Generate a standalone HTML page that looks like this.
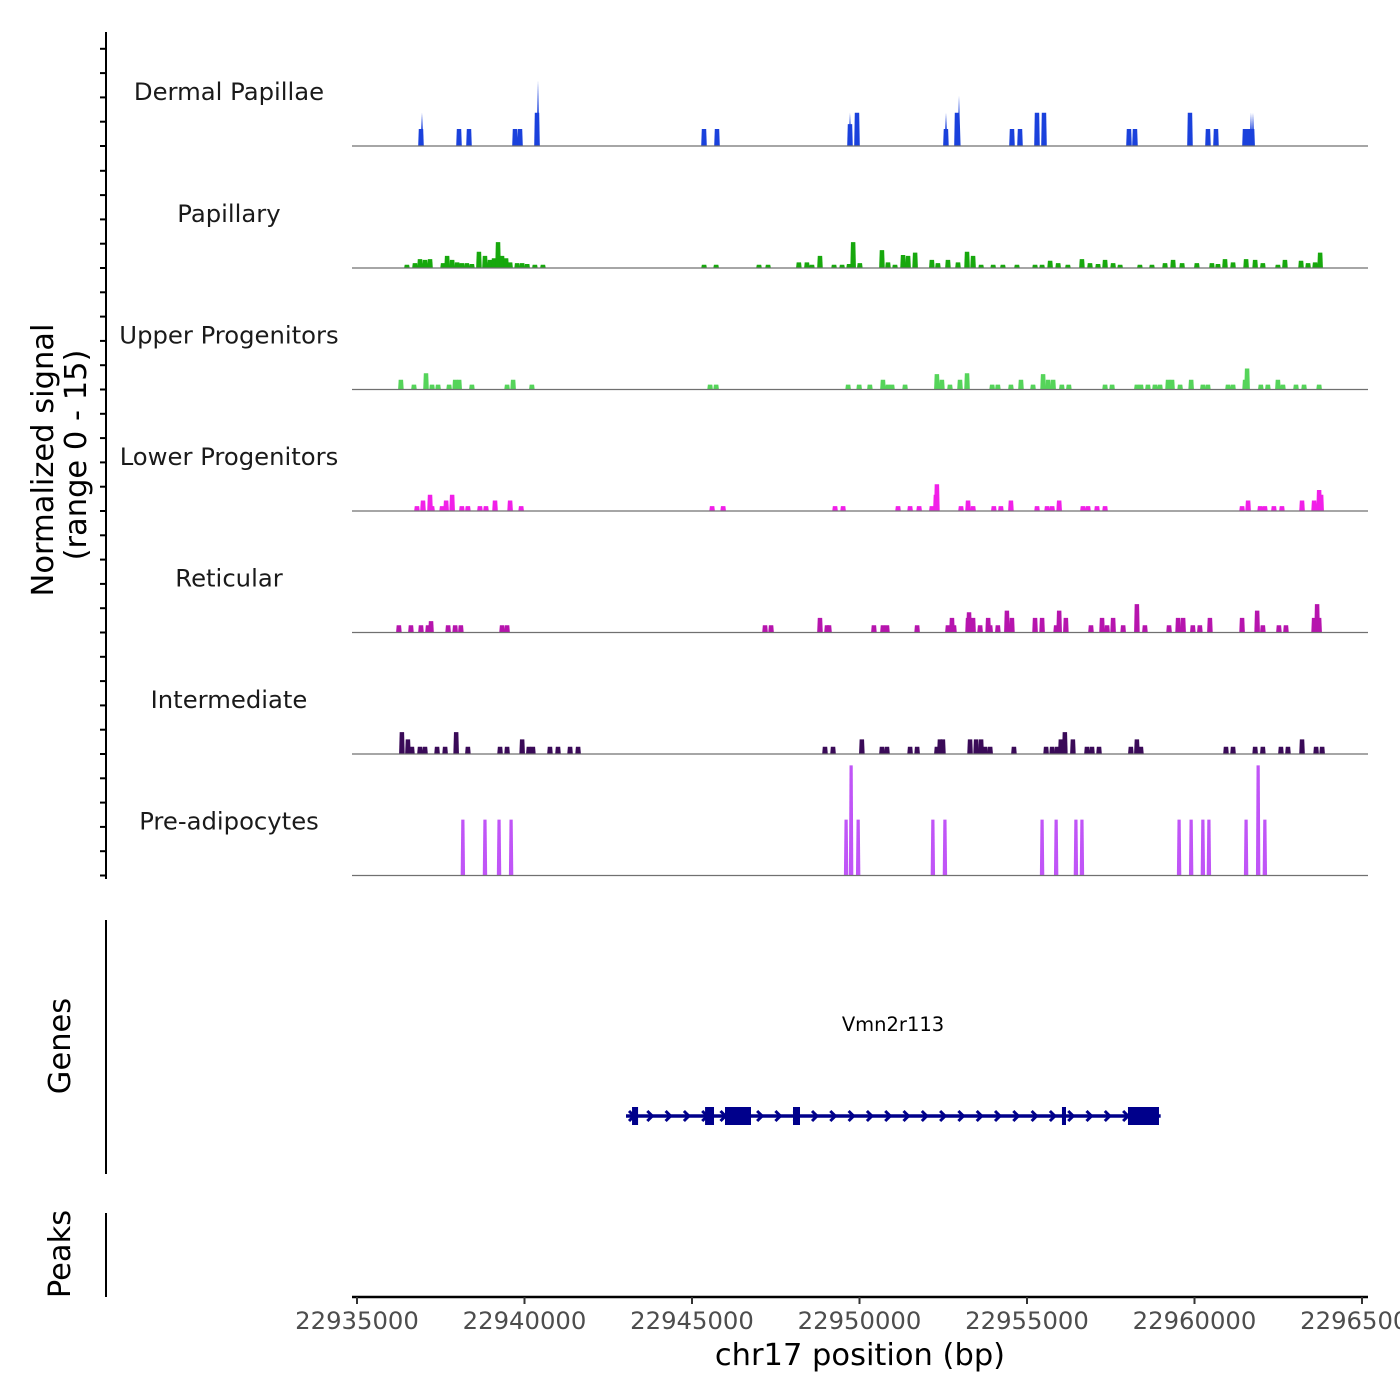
<!DOCTYPE html>
<html><head><meta charset="utf-8">
<style>
html,body{margin:0;padding:0;background:#fff;}
svg{display:block;font-family:"DejaVu Sans","Liberation Sans",sans-serif;}
</style></head>
<body>
<svg id="chart" width="1400" height="1400" viewBox="0 0 1400 1400" xmlns="http://www.w3.org/2000/svg">
<g id="ylab">
<text transform="translate(53,460) rotate(-90)" text-anchor="middle" font-size="30.5" fill="#000">Normalized signal</text>
<text transform="translate(86,455) rotate(-90)" text-anchor="middle" font-size="30.5" fill="#000">(range 0 - 15)</text>
<text transform="translate(70,1046) rotate(-90)" text-anchor="middle" font-size="30.5" fill="#000">Genes</text>
<text transform="translate(70,1254) rotate(-90)" text-anchor="middle" font-size="30.5" fill="#000">Peaks</text>
</g>
<line x1="106" y1="32" x2="106" y2="879" stroke="#000" stroke-width="2"/>
<line x1="106" y1="920" x2="106" y2="1174" stroke="#000" stroke-width="2"/>
<line x1="106" y1="1213" x2="106" y2="1297" stroke="#000" stroke-width="2"/>
<line x1="352" y1="1297" x2="1368" y2="1297" stroke="#000" stroke-width="2.5"/>
<text x="860" y="1365" text-anchor="middle" font-size="30.5" fill="#000">chr17 position (bp)</text>
<text x="893" y="1031" text-anchor="middle" font-size="19.5" fill="#000">Vmn2r113</text>
<g id="tracks"></g>
<g id="gene"></g>
<g id="xaxis"></g>
</svg>
<script>
const xTicks = [22935000, 22940000, 22945000, 22950000, 22955000, 22960000, 22965000];
const trackNames = ["Dermal Papillae","Papillary","Upper Progenitors","Lower Progenitors","Reticular","Intermediate","Pre-adipocytes"];

const dpPos = [22936910,22938045,22938343,22939716,22939866,22940373,22945358,22945746,22949716,22949925,22952580,22952910,22954552,22954791,22955298,22955507,22958044,22958223,22959865,22960402,22960641,22961507,22961600,22961720];
const dpVal = [2.1,2.1,2.1,2.1,2.1,4.1,2.1,2.1,2.7,4.1,2.1,4.1,2.1,2.1,4.1,4.1,2.1,2.1,4.1,2.1,2.1,2.1,2.1,2.1];
const dpSpikePos = [22936940,22940403,22949716,22952582,22952970,22961686,22961746];
const dpSpikeVal = [4.1,8.1,4.1,4.1,6.2,4.1,4.1];

const papPos = [22936490,22936730,22936880,22937030,22937180,22937570,22937690,22937840,22937990,22938130,22938280,22938430,22938640,22938820,22938970,22939090,22939210,22939330,22939450,22939570,22939780,22939930,22940080,22940310,22940550,22945360,22945720,22947000,22947270,22948190,22948430,22948580,22948820,22949240,22949480,22949690,22949810,22950010,22950670,22950850,22951060,22951300,22951450,22951660,22952160,22952340,22952640,22952940,22953210,22953390,22953630,22953990,22954280,22954700,22955240,22955450,22955690,22955930,22956220,22956640,22956880,22957120,22957330,22957570,22957780,22958370,22958730,22959120,22959360,22959630,22960070,22960520,22960700,22960910,22961150,22961540,22961810,22962040,22962490,22962700,22963180,22963390,22963600,22963750];
const papVal = [0.4,0.6,1.1,1.0,1.1,0.6,1.5,1.0,0.7,0.6,0.6,0.5,2.0,1.5,1.0,1.2,3.2,1.5,1.2,0.7,0.6,0.6,0.5,0.4,0.4,0.4,0.4,0.4,0.4,0.7,0.7,0.4,1.5,0.4,0.4,0.5,3.2,0.6,2.2,0.7,0.4,1.6,1.5,1.9,1.0,0.6,1.0,0.7,2.0,1.5,0.4,0.4,0.4,0.4,0.4,0.4,0.9,0.6,0.4,1.1,0.6,0.5,1.0,0.6,0.4,0.4,0.4,0.6,1.0,0.6,0.6,0.6,0.5,1.1,0.7,1.1,1.0,0.6,0.4,1.0,0.9,0.6,0.7,1.9];

const upPos = [22936310,22936700,22937060,22937240,22937420,22937750,22937930,22938050,22938430,22939480,22939660,22940220,22945540,22945720,22949660,22949990,22950310,22950700,22950850,22950970,22951360,22952310,22952460,22952700,22953000,22953210,22953960,22954130,22954520,22954820,22955180,22955480,22955630,22955780,22956040,22956250,22957330,22957540,22958280,22958400,22958610,22958820,22958970,22959210,22959330,22959570,22959900,22960250,22960400,22961000,22961150,22961510,22961570,22961980,22962190,22962490,22962640,22963030,22963270,22963720];
const upVal = [1.2,0.6,2.0,0.6,0.6,0.6,1.2,1.2,0.6,0.6,1.2,0.6,0.6,0.6,0.6,0.6,0.6,1.2,0.6,0.6,0.6,1.9,1.2,0.6,1.2,2.0,0.6,0.6,0.6,1.2,0.6,1.9,1.2,1.2,0.6,0.6,0.6,0.6,0.6,0.6,0.6,0.6,0.6,1.2,1.2,0.6,1.2,0.6,0.6,0.6,0.6,1.2,2.6,0.6,0.6,1.2,0.6,0.6,0.6,0.6];

const lowPos = [22936790,22936970,22937180,22937240,22937540,22937660,22937840,22938130,22938310,22938670,22938850,22939120,22939570,22939900,22945600,22945930,22949270,22949510,22951150,22951510,22951780,22952160,22952280,22952310,22953030,22953240,22953390,22954010,22954220,22954520,22955300,22955600,22955750,22955960,22956670,22956820,22957090,22957330,22961420,22961600,22961960,22962100,22962370,22962610,22963210,22963570,22963720,22963780];
const lowVal = [0.6,1.3,2.0,0.6,0.6,1.3,2.0,0.6,0.6,0.6,0.6,1.3,1.3,0.6,0.6,0.6,0.6,0.6,0.6,0.6,0.6,0.6,2.0,3.3,0.6,1.3,0.6,0.6,0.6,1.3,0.6,0.6,0.6,1.3,0.6,0.6,0.6,0.6,0.6,1.3,0.6,0.6,0.6,0.6,1.3,1.3,2.6,2.0];

const retPos = [22936250,22936610,22936910,22937120,22937210,22937720,22937930,22938100,22939330,22939480,22947180,22947360,22948820,22949030,22949090,22950430,22950700,22950820,22951720,22952640,22952760,22952820,22953240,22953270,22953390,22953600,22953840,22953900,22954130,22954400,22954550,22955240,22955450,22955870,22955960,22956160,22956910,22957240,22957390,22957570,22957870,22958280,22958520,22959240,22959510,22959660,22959950,22960160,22960460,22961420,22961870,22962040,22962520,22962730,22963570,22963660,22963720];
const retVal = [0.9,0.9,0.9,0.9,1.4,0.9,0.9,0.9,0.9,0.9,0.9,0.9,1.8,0.9,0.9,0.9,0.9,0.9,0.9,0.9,1.8,0.9,1.8,2.5,1.8,0.9,1.8,0.9,0.9,2.7,1.8,1.8,1.8,0.9,2.7,1.8,0.9,1.8,0.9,1.8,0.9,3.5,0.9,0.9,1.8,1.8,0.9,0.9,1.8,1.8,2.7,0.9,0.9,0.9,1.8,3.5,1.8];

const intPos = [22936340,22936520,22936640,22936880,22937030,22937390,22937630,22937960,22938310,22939270,22939480,22939930,22940130,22940250,22940760,22941000,22941360,22941600,22948970,22949210,22950070,22950670,22950820,22951510,22951720,22952310,22952400,22952490,22953300,22953480,22953630,22953750,22953900,22954610,22955570,22955750,22955900,22956010,22956130,22956370,22956790,22956940,22957150,22958100,22958280,22958400,22960940,22961150,22961810,22962040,22962580,22962790,22963210,22963630,22963810];
const intVal = [2.7,1.8,0.9,0.9,0.9,0.9,0.9,2.7,0.9,0.9,0.9,1.8,0.9,0.9,0.9,0.9,0.9,0.9,0.9,0.9,1.8,0.9,0.9,0.9,0.9,0.9,1.8,1.8,1.8,1.8,1.8,0.9,0.9,0.9,0.9,0.9,0.9,1.8,2.7,1.8,0.9,0.9,0.9,0.9,1.8,0.9,0.9,0.9,0.9,0.9,0.9,0.9,1.8,0.9,0.9];

const prePos = [22938160,22938820,22939240,22939600,22949600,22949750,22949960,22952190,22952550,22955450,22955870,22956460,22956640,22959540,22959900,22960250,22960430,22961540,22961900,22962100];
const preVal = [6.9,6.9,6.9,6.9,6.9,13.6,6.9,6.9,6.9,6.9,6.9,6.9,6.9,6.9,6.9,6.9,6.9,6.9,13.6,6.9];

const geneExonStart = [22943210,22945390,22945985,22948015,22956044,22958014];
const geneExonEnd   = [22943390,22945657,22946761,22948224,22956164,22958940];
const geneStart = 22943030;
const geneEnd = 22958990;

const NS = "http://www.w3.org/2000/svg";
const X0 = 22935000, PX0 = 357, PXPER = 1005/30000;
function xs(bp){ return PX0 + (bp - X0) * PXPER; }
const baselines = [146,268,389.5,511,632.5,754,875.5];
const UNIT = 121.5/15;
function ys(track, v){ return baselines[track] - v * UNIT; }
function mk(tag, attrs, parent){ const e=document.createElementNS(NS,tag); for(const k in attrs) e.setAttribute(k,attrs[k]); parent.appendChild(e); return e; }

const tracksG = document.getElementById('tracks');
const colors = ["#1a41dc","#17a80d","#55d45a","#f11fe8","#b614ad","#3a0a58","#c055f7"];
const posArrs = [dpPos,papPos,upPos,lowPos,retPos,intPos,prePos];
const valArrs = [dpVal,papVal,upVal,lowVal,retVal,intVal,preVal];
const halfW = [2.2,2.2,2.2,2.2,2.2,2.2,1.6];
const slugs = ["dermal-papillae","papillary","upper-progenitors","lower-progenitors","reticular","intermediate","pre-adipocytes"];

for(let t=0;t<7;t++){
  for(let k=0;k<5;k++){
    const y = baselines[t] - k*24.3;
    if (y < 32) continue;
    const tk = mk('line',{x1:100,x2:106,y1:y,y2:y,stroke:'#000','stroke-width':2},tracksG);
    
    
  }
}

for(let t=0;t<7;t++){
  const g = mk('g',{},tracksG);
  
  
  const lab = mk('text',{x:229,y:baselines[t]-46,'text-anchor':'middle','font-size':24.3,fill:'#1a1a1a'},g);
  lab.textContent = trackNames[t];
  
  
  const pos = posArrs[t], val = valArrs[t];
  for(let i=0;i<pos.length;i++){
    const x = xs(pos[i]), y = ys(t,val[i]), b = baselines[t], w = halfW[t];
    const p = mk('polygon',{points:`${x-w-0.6},${b} ${x-w},${y} ${x+w},${y} ${x+w+0.6},${b}`,fill:colors[t]},g);
    
    
  }
  if(t===0){
    for(let i=0;i<dpSpikePos.length;i++){
      const x = xs(dpSpikePos[i]), y = ys(0,dpSpikeVal[i]), b = baselines[0];
      const s = mk('polygon',{points:`${x-1.6},${b} ${x},${y} ${x+1.6},${b}`,fill:colors[0]},g);
      
      
    }
  }
  const bl = mk('line',{x1:352,x2:1368,y1:baselines[t],y2:baselines[t],stroke:'#707070','stroke-width':1.2},g);
  
  
}

const geneG = document.getElementById('gene');


const gy = 1116;
const gl = mk('line',{x1:xs(geneStart),x2:xs(geneEnd),y1:gy,y2:gy,stroke:'#00008b','stroke-width':3.5},geneG);


for(let ax = xs(geneStart)+3; ax < xs(geneEnd)-4; ax += 18.3){
  const a = mk('polyline',{points:`${ax},${gy-5} ${ax+5},${gy} ${ax},${gy+5}`,fill:'none',stroke:'#00008b','stroke-width':3},geneG);
  
  
}
for(let i=0;i<geneExonStart.length;i++){
  const x1 = xs(geneExonStart[i]), x2 = xs(geneExonEnd[i]);
  const r = mk('rect',{x:x1,y:gy-9,width:Math.max(3,x2-x1),height:18,fill:'#00008b'},geneG);
  
  
}

const xa = document.getElementById('xaxis');
for(let i=0;i<xTicks.length;i++){
  const x = xs(xTicks[i]);
  const tk = mk('line',{x1:x,x2:x,y1:1297,y2:1304,stroke:'#333','stroke-width':2},xa);
  
  
  const tl = mk('text',{x:x,y:1329,'text-anchor':'middle','font-size':24.3,fill:'#4d4d4d'},xa);
  tl.textContent = String(xTicks[i]);
  
  
}
</script>
</body></html>
